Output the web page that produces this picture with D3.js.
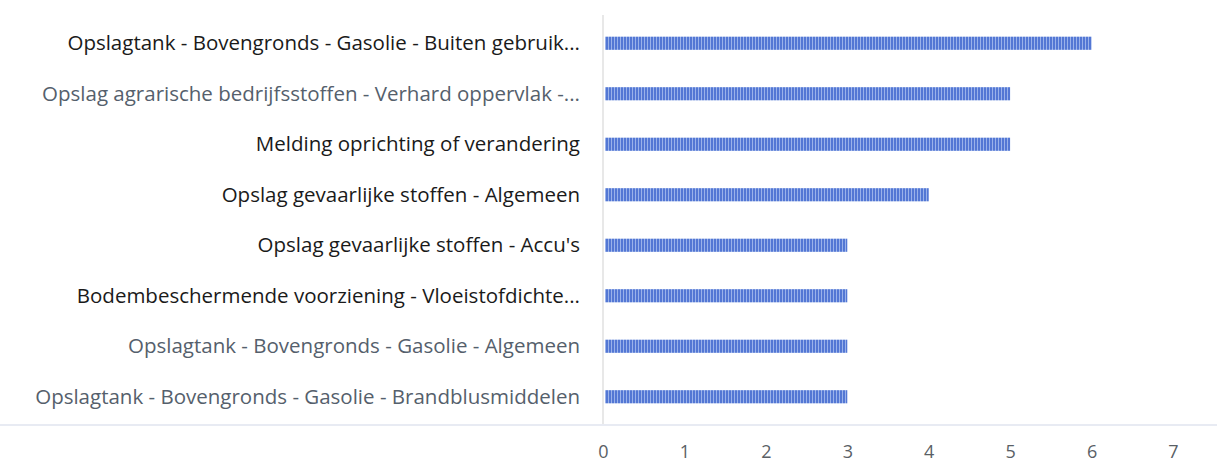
<!DOCTYPE html>
<html>
<head>
<meta charset="utf-8">
<script src="https://cdn.jsdelivr.net/npm/d3@7"></script>
<style>
  body { margin: 0; background: #fff; }
  text { font-family: "Open Sans", Lato, sans-serif; }
</style>
</head>
<body>
<div class="chart"></div>
<script>
// data
var categories = [
    "Opslagtank - Bovengronds - Gasolie - Buiten gebruik...",
    "Opslag agrarische bedrijfsstoffen - Verhard oppervlak -...",
    "Melding oprichting of verandering",
    "Opslag gevaarlijke stoffen - Algemeen",
    "Opslag gevaarlijke stoffen - Accu's",
    "Bodembeschermende voorziening - Vloeistofdichte...",
    "Opslagtank - Bovengronds - Gasolie - Algemeen",
    "Opslagtank - Bovengronds - Gasolie - Brandblusmiddelen"
];
var counts = [6, 5, 5, 4, 3, 3, 3, 3];
var xTicks = [0, 1, 2, 3, 4, 5, 6, 7];
var greyLabels = [1, 6, 7];

var svgWidth = 1217;
var svgHeight = 464;

var margin = { top: 18, right: 44, bottom: 40, left: 603 };

var width = svgWidth - margin.left - margin.right;
var height = svgHeight - margin.top - margin.bottom;

var svg = d3.select(".chart")
    .append("svg")
    .attr("width", svgWidth)
    .attr("height", svgHeight);

// striped fill like the scanned bars
var defs = svg.append("defs");
var pat = defs.append("pattern")
    .attr("id", "stripes")
    .attr("patternUnits", "userSpaceOnUse")
    .attr("width", 3)
    .attr("height", 10);
pat.append("rect").attr("width", 3).attr("height", 10).attr("fill", "#9ab2ea");
pat.append("rect").attr("width", 2).attr("height", 10).attr("fill", "#5377d4");

var chartGroup = svg.append("g")
    .attr("transform", `translate(${margin.left}, ${margin.top})`);

var xScale = d3.scaleLinear()
    .domain([0, 7])
    .range([0, 570]);

var yScale = d3.scaleBand()
    .domain(categories)
    .range([0, 404])
    .paddingInner(0.74)
    .paddingOuter(0.37);

// axis lines
chartGroup.append("line")
    .attr("x1", 0).attr("x2", 0)
    .attr("y1", -3).attr("y2", 407)
    .attr("stroke", "#e0e0e0")
    .attr("stroke-width", 1.5);

chartGroup.append("line")
    .attr("x1", -603).attr("x2", svgWidth - margin.left)
    .attr("y1", 407).attr("y2", 407)
    .attr("stroke", "#e8ebf3")
    .attr("stroke-width", 2);

// bars
chartGroup.selectAll(".bar")
    .data(counts)
    .enter()
    .append("rect")
    .attr("class", "bar")
    .attr("x", xScale(0) + 2)
    .attr("y", (d, i) => yScale(categories[i]))
    .attr("width", d => xScale(d) - xScale(0) - 2)
    .attr("height", yScale.bandwidth())
    .attr("fill", "url(#stripes)");

// category labels
chartGroup.selectAll(".cat")
    .data(categories)
    .enter()
    .append("text")
    .attr("class", "cat")
    .attr("x", -23)
    .attr("y", d => yScale(d) + yScale.bandwidth() / 2)
    .attr("dy", "0.35em")
    .attr("text-anchor", "end")
    .attr("font-size", "20.5px")
    .attr("fill", (d, i) => greyLabels.indexOf(i) >= 0 ? "#55606c" : "#1a1a1a")
    .text(d => d);

// x axis
var bottomAxis = d3.axisBottom(xScale)
    .tickValues(xTicks)
    .tickSize(0)
    .tickPadding(0)
    .tickFormat(d3.format("d"));

var xAxis = chartGroup.append("g")
    .attr("transform", `translate(0, ${height})`)
    .call(bottomAxis);

xAxis.select(".domain").remove();
xAxis.selectAll("text")
    .attr("font-size", "18px")
    .attr("fill", "#5a5f66")
    .attr("y", 21)
    .attr("dy", "0.71em");
</script>
</body>
</html>
